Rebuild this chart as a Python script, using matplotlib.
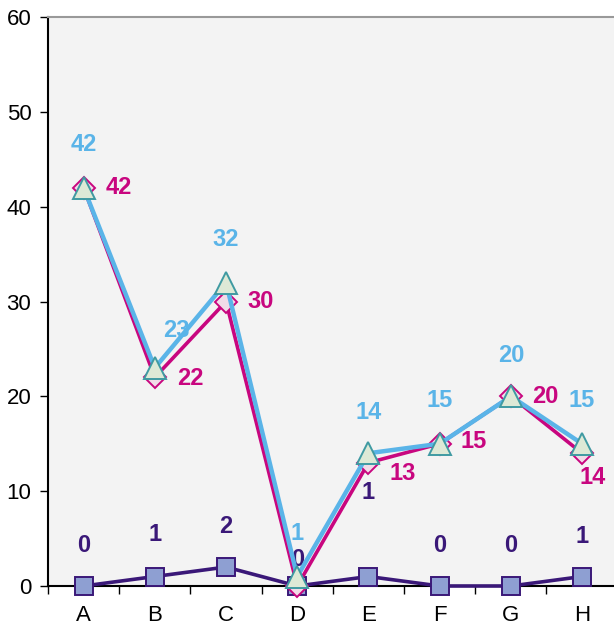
import numpy as np
import matplotlib
matplotlib.use('Agg')
import matplotlib.pyplot as plt

plt.rcParams['font.family'] = ['Liberation Sans', 'DejaVu Sans']

# Chart data
categories = ['A', 'B', 'C', 'D', 'E', 'F', 'G', 'H']
series_tri = [42, 23, 32, 1, 14, 15, 20, 15]
series_dia = [42, 22, 30, 0, 13, 15, 20, 14]
series_sq = [0, 1, 2, 0, 1, 0, 0, 1]
labels_tri = ['42', '23', '32', '1', '14', '15', '20', '15']
labels_dia = ['42', '22', '30', '', '13', '15', '20', '14']
labels_sq = ['0', '1', '2', '0', '1', '0', '0', '1']

# Label offsets in pixels (dx, dy) relative to each point
off_tri = [(0, 43), (22, 37), (0, 43), (0, 43), (0, 41), (0, 43), (0, 41), (0, 43)]
off_dia = [(35, 0), (36, -1), (35, 0), (0, 0), (34, -11), (34, 2), (34, 0), (11, -24)]
off_sq = [(0, 41), (0, 42), (0, 41), (0, 26), (0, 84), (0, 41), (0, 41), (0, 40)]

x = np.arange(len(categories))

fig = plt.figure(figsize=(6.14, 6.34), dpi=100)
ax = fig.add_axes([48 / 614, 48 / 634, 1 - 48 / 614 + 0.006, (586 - 17) / 634])
ax.set_facecolor('#f3f3f3')

c_sq, c_dia, c_tri = '#3a1878', '#c8067f', '#5ab4e8'

ax.plot(x, series_sq, color=c_sq, lw=2.6, marker='s', ms=13,
        mfc='#8e9fd2', mec=c_sq, mew=1.4, zorder=3, clip_on=False)
ax.plot(x, series_dia, color=c_dia, lw=2.6, marker='D', ms=11,
        mfc='#f1dce8', mec=c_dia, mew=1.4, zorder=4, clip_on=False)
ax.plot(x, series_tri, color=c_tri, lw=3.2, marker='^', ms=16,
        mfc='#dde9d6', mec='#3f9aa2', mew=1.4, zorder=5, clip_on=False)

def put_labels(vals, labs, offs, color, z):
    for xi, v, s, (dx, dy) in zip(x, vals, labs, offs):
        if not s:
            continue
        ax.annotate(s, (xi, v), xytext=(dx, dy), textcoords='offset pixels',
                    ha='center', va='center', fontsize=17, fontweight='bold',
                    color=color, zorder=z)

put_labels(series_sq, labels_sq, off_sq, c_sq, 4.5)
put_labels(series_dia, labels_dia, off_dia, c_dia, 6)
put_labels(series_tri, labels_tri, off_tri, c_tri, 6)

ax.set_xlim(-0.5, 7.5)
ax.set_ylim(0, 60)
ax.set_yticks(range(0, 61, 10))
ax.set_xticks(x)
ax.set_xticklabels(categories)
ax.set_xticks(np.arange(-0.5, 8, 1), minor=True)
ax.tick_params(axis='x', which='major', length=0, pad=14, labelsize=16)
ax.tick_params(axis='x', which='minor', length=6, width=1, color='black')
ax.tick_params(axis='y', length=6, width=1, pad=6, labelsize=16)

ax.spines['left'].set_color('black')
ax.spines['left'].set_linewidth(1.5)
ax.spines['bottom'].set_color('black')
ax.spines['bottom'].set_linewidth(1.5)
ax.spines['top'].set_color('#999999')
ax.spines['top'].set_linewidth(1.5)
ax.spines['right'].set_visible(False)

fig.savefig('out.png', dpi=100)
